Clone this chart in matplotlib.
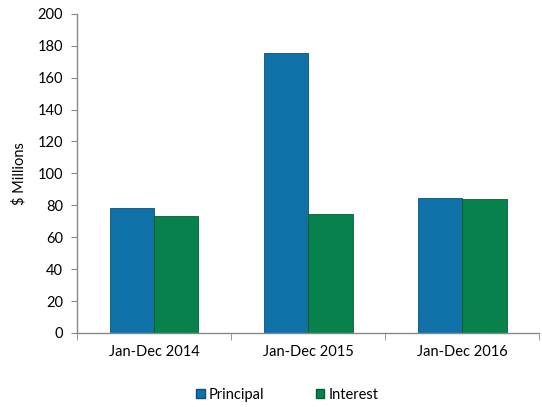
import matplotlib
matplotlib.use("Agg")
import matplotlib.pyplot as plt
import numpy as np
from matplotlib.patches import Patch

plt.rcParams['font.family'] = ['Lato', 'DejaVu Sans']

categories = ["Jan-Dec 2014", "Jan-Dec 2015", "Jan-Dec 2016"]
principal = [78.5, 175.5, 84.5]
interest = [73.5, 74.5, 84.0]
yticks = [0, 20, 40, 60, 80, 100, 120, 140, 160, 180, 200]

blue = "#1071A9"
green = "#08824C"

fig = plt.figure(figsize=(5.42, 4.07), dpi=100)
ax = fig.add_axes([0.142, 0.182, 0.853, 0.784])

x = np.arange(len(categories))
w = 0.288
ax.bar(x - w/2, principal, w, color=blue, edgecolor="#0B4F78", linewidth=0.6)
ax.bar(x + w/2, interest, w, color=green, edgecolor="#055E36", linewidth=0.6)

ax.set_xlim(-0.5, len(categories) - 0.5)
ax.set_ylim(0, 200)
ax.set_yticks(yticks)
ax.set_xticks(x)
ax.set_xticklabels(categories, fontsize=10.5)
ax.set_xticks(np.arange(len(categories) + 1) - 0.5, minor=True)
ax.tick_params(axis='x', which='major', length=0, pad=9)
ax.tick_params(axis='x', which='minor', length=5, color="#888888", direction='out')
ax.tick_params(axis='y', length=4, color="#888888", labelsize=10.5, pad=6)
ax.set_ylabel("$ Millions", fontsize=10.5, labelpad=8)

for s in ["top", "right"]:
    ax.spines[s].set_visible(False)
for s in ["left", "bottom"]:
    ax.spines[s].set_color("#888888")
    ax.spines[s].set_linewidth(1.0)

handles = [Patch(facecolor=blue, edgecolor="#0B4F78", label="Principal"),
           Patch(facecolor=green, edgecolor="#055E36", label="Interest")]
fig.legend(handles=handles, loc="center", bbox_to_anchor=(0.53, 0.03), ncol=2,
           frameon=False, fontsize=10.5, handlelength=0.6, handleheight=0.6,
           handletextpad=0.3, columnspacing=3.5)

fig.savefig("out.png", dpi=100)
